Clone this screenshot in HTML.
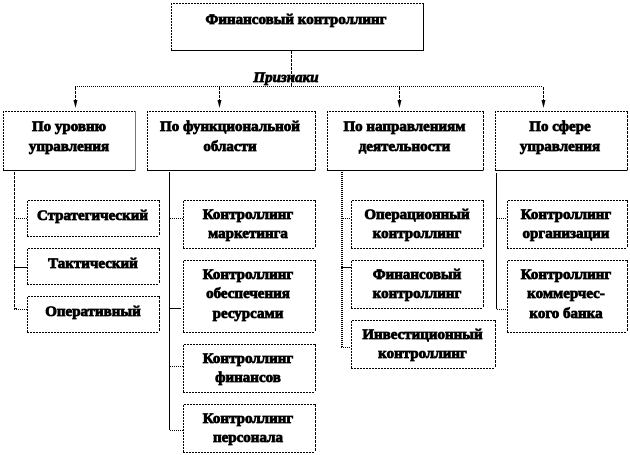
<!DOCTYPE html>
<html>
<head>
<meta charset="utf-8">
<style>
html,body{margin:0;padding:0;background:#fff;width:630px;height:455px;overflow:hidden}
svg{display:block}
.b rect{fill:#fff;stroke:none}
.tl{fill:none;stroke:#000;stroke-width:1;stroke-dasharray:2 1}
.br{fill:none;stroke:#000;stroke-width:1}
.bd{fill:none;stroke:#000;stroke-width:1;stroke-dasharray:2 1}
.d{fill:none;stroke:#000;stroke-width:1;stroke-dasharray:1 1}
.s{fill:none;stroke:#000;stroke-width:1}
.a{fill:none;stroke:#000;stroke-width:1;stroke-dasharray:3 1}
text{font-family:"Liberation Serif","Noto Serif CJK SC",serif;font-weight:bold;font-size:15px;fill:#000;text-anchor:middle;stroke:#000;stroke-width:.8}
</style>
</head>
<body>
<svg width="630" height="455" viewBox="0 0 630 455" xmlns="http://www.w3.org/2000/svg">
<g class="b">
<rect x="171" y="3" width="252" height="47"/>
<rect x="3" y="111" width="132" height="59"/>
<rect x="147" y="111" width="168" height="59"/>
<rect x="327" y="111" width="156" height="59"/>
<rect x="495" y="111" width="132" height="59"/>
</g>
<path class="a" d="M291.5 51V86M75.5 87V106M219.5 87V106M399.5 87V106M543.5 87V106"/>
<path class="d" d="M75 86.5H543"/>
<path d="M73.5 100L75.5 108L77.5 100ZM217.5 100L219.5 108L221.5 100ZM397.5 100L399.5 108L401.5 100ZM541.5 100L543.5 108L545.5 100Z" fill="#000"/>
<path class="a" d="M14.5 172V308"/>
<path class="s" d="M169.5 172V430M496.5 173V309M14 267.5H27M14 308.5H17M169 308.5H181M341 267.5H352"/>
<path class="d" d="M341.5 172V347M342.5 172V347M14 218.5H27M14 309.5H27M170 218.5H183M170 366.5H183M170 430.5H183M341 218.5H351M341 347.5H351M497 218.5H507M497 309.5H507"/>
<g class="tl">
<path d="M171.5 50V3.5H423"/>
<path d="M3.5 170V111.5H135"/>
<path d="M147.5 170V111.5H315"/>
<path d="M327.5 170V111.5H483"/>
<path d="M495.5 170V111.5H627"/>
</g>
<g class="br">
<path d="M171 50.5H423.5V3"/>
<path d="M3 170.5H135.5"/>
<path d="M147 170.5H315.5"/>
<path d="M327 170.5H483.5"/>
<path d="M495 170.5H627.5"/>
</g>
<path class="a" d="M315.5 111V170M483.5 111V170M627.5 111V170" />
<path d="M135.5 111V170" fill="none" stroke="#777"/>
<g class="b">
<rect x="27" y="200" width="132" height="36"/>
<rect x="27" y="248" width="132" height="36"/>
<rect x="27" y="296" width="132" height="36"/>
<rect x="183" y="200" width="132" height="48"/>
<rect x="183" y="260" width="132" height="72"/>
<rect x="183" y="344" width="132" height="48"/>
<rect x="183" y="404" width="132" height="48"/>
<rect x="351" y="200" width="132" height="48"/>
<rect x="351" y="260" width="132" height="48"/>
<rect x="351" y="320" width="144" height="48"/>
<rect x="507" y="200" width="120" height="48"/>
<rect x="507" y="260" width="120" height="72"/>
</g>
<g class="bd">
<path d="M27.5 236V200.5H159M27 236.5H159"/>
<path d="M27.5 284V248.5H159M27 284.5H159"/>
<path d="M27.5 332V296.5H159M27 332.5H159"/>
<path d="M183.5 248V200.5H315M183 248.5H315"/>
<path d="M183.5 332V260.5H315M183 332.5H315"/>
<path d="M183.5 392V344.5H315M183 392.5H315"/>
<path d="M183.5 452V404.5H315M183 452.5H315"/>
<path d="M351.5 248V200.5H483M351 248.5H483"/>
<path d="M351.5 308V260.5H483M351 308.5H483"/>
<path d="M351.5 368V320.5H495M351 368.5H495"/>
<path d="M507.5 248V200.5H627M507 248.5H627"/>
<path d="M507.5 332V260.5H627M507 332.5H627"/>
</g>
<path class="a" d="M159.5 200V236M159.5 248V284M159.5 296V332M315.5 200V248M315.5 260V332M315.5 344V392M315.5 404V452M483.5 200V248M483.5 260V308M495.5 320V368M627.5 200V248M627.5 260V332"/>
<text x="296" y="24">Финансовый контроллинг</text>
<text x="286" y="82" style="font-style:italic">Признаки</text>
<text x="69" y="131">По уровню</text>
<text x="69" y="151">управления</text>
<text x="230" y="131">По функциональной</text>
<text x="230" y="151">области</text>
<text x="404.5" y="131">По направлениям</text>
<text x="404.5" y="151">деятельности</text>
<text x="560" y="131">По сфере</text>
<text x="560" y="151">управления</text>
<text x="92.5" y="220">Стратегический</text>
<text x="93" y="268">Тактический</text>
<text x="93" y="316">Оперативный</text>
<text x="248" y="219">Контроллинг</text>
<text x="248" y="238">маркетинга</text>
<text x="248" y="279">Контроллинг</text>
<text x="248" y="298">обеспечения</text>
<text x="248" y="318">ресурсами</text>
<text x="248" y="363">Контроллинг</text>
<text x="248" y="382">финансов</text>
<text x="248" y="423">Контроллинг</text>
<text x="248" y="442">персонала</text>
<text x="417" y="219">Операционный</text>
<text x="417" y="238">контроллинг</text>
<text x="417" y="279">Финансовый</text>
<text x="417" y="298">контроллинг</text>
<text x="422.5" y="339">Инвестиционный</text>
<text x="422.5" y="358">контроллинг</text>
<text x="566" y="219">Контроллинг</text>
<text x="566" y="238">организации</text>
<text x="566" y="279">Контроллинг</text>
<text x="566" y="298">коммерчес-</text>
<text x="566" y="318">кого банка</text>
</svg>
</body>
</html>
